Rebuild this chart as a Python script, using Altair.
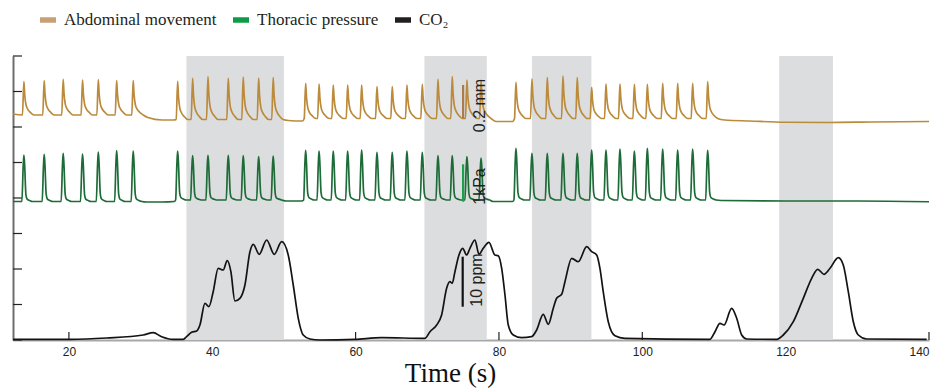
import altair as alt
import pandas as pd

# ---------------- data ----------------
X_DOMAIN = [12.2, 140]
Y_DOMAIN = [0, 56.8]
x_ticks = [20, 40, 60, 80, 100, 120, 140]
y_ticks = [0, 7.1, 14.2, 21.3, 28.4, 35.5, 42.6, 49.7, 56.8]

SERIES = ["Abdominal movement", "Thoracic pressure", "CO\u2082"]
LINE_COLORS = ["#BB8A3B", "#1D6B37", "#151213"]
LEGEND_COLORS = ["#C9A074", "#0E9A48", "#231F20"]

shade_start = [36.4, 69.6, 84.6, 119.1]
shade_end = [50.0, 78.3, 92.9, 126.6]

# breath (pulse) peak times, shared by abdominal and thoracic traces
breath_t = [13.72, 16.55, 19.2, 21.9, 24.1, 26.66, 28.97,
            35.17, 37.26, 39.4, 42.23, 44.32, 46.47, 48.5,
            53.03, 54.9, 56.88, 58.89, 60.84, 62.98, 65.11, 67.16, 69.3, 71.49, 73.48, 75.53, 77.5,
            82.37, 84.6, 86.74, 88.93, 90.92, 92.93, 94.93, 96.88, 98.89, 100.7, 102.84, 104.93, 107.02, 109.12]
section_sizes = [7, 7, 13, 14]
abd_peak = [51.66, 51.86, 52.14, 52.0, 52.06, 51.86, 51.86,
            51.74, 52.34, 52.66, 52.34, 52.6, 52.4, 52.46,
            51.34, 51.2, 51.0, 51.0, 51.0, 50.66, 50.66, 51.0, 51.14, 52.14, 52.66, 52.0, 52.0,
            51.54, 52.2, 52.46, 52.8, 52.46, 50.54, 51.2, 51.2, 51.14, 51.14, 51.34, 51.34, 51.34, 51.66]
thor_peak = [37.0, 37.14, 37.34, 37.2, 37.6, 37.86, 37.8,
             37.8, 36.86, 36.94, 36.94, 36.86, 36.66, 36.8,
             37.94, 37.8, 37.8, 37.8, 38.0, 37.54, 37.54, 37.8, 37.54, 36.86, 36.86, 36.66, 36.4,
             38.34, 37.34, 37.34, 37.34, 37.34, 38.0, 38.0, 38.2, 37.8, 38.34, 38.2, 38.0, 38.2, 37.94]
abd_base = [45.0, 44.1, 44.3, 44.3]
thor_base = [27.7, 28.0, 28.0, 28.0]

# resting (no-breath) stretches
abd_rest_t = [12.2, 31.0, 33.0, 34.6, 50.6, 52.6, 79.6, 81.9, 111.5, 115, 120, 126, 132, 140]
abd_rest_v = [45.2, 44.5, 44.0, 44.0, 43.9, 43.8, 43.7, 43.7, 44.0, 43.8, 43.55, 43.5, 43.6, 43.7]
thor_rest_t = [12.2, 30.8, 33.0, 34.7, 50.3, 52.5, 79.2, 81.9, 111.0, 120, 130, 140]
thor_rest_v = [27.7, 27.6, 27.6, 27.7, 27.8, 27.8, 27.7, 27.7, 27.9, 27.8, 27.8, 27.65]

# pulse shapes (time offset from peak, fraction of peak height)
abd_shape_dt = [-0.2, 0.0, 0.12, 0.3, 0.55, 0.9, 1.4]
abd_shape_f = [0.0, 1.0, 0.6, 0.3, 0.17, 0.08, 0.0]
thor_shape_dt = [-0.28, -0.1, 0.0, 0.1, 0.28, 0.45, 0.8, 1.2]
thor_shape_f = [0.0, 0.75, 1.0, 0.8, 0.15, 0.05, 0.02, 0.0]

# CO2 trace (ppm above baseline)
co2_t = [12.23, 20.14, 25.26, 30.37, 31.76, 32.93, 34.55, 35.95, 36.42, 37.12, 37.82, 38.28,
         38.98, 39.53, 40.13, 40.83, 41.53, 42.09, 42.6, 43.16, 43.86, 44.56, 45.26, 45.72,
         46.55, 47.59, 48.65, 49.68, 50.6, 51.3, 52.0, 52.69, 53.63, 55.02, 59.9, 63.63,
         69.67, 70.37, 71.31, 72.0, 72.7, 73.16, 73.48, 73.86, 74.42, 74.94, 75.49, 75.95,
         76.65, 77.21, 77.81, 78.6, 79.44, 79.9, 80.38, 80.84, 81.3, 82.0, 83.17, 84.56,
         85.26, 86.18, 86.88, 87.58, 88.05, 88.75, 89.21, 90.15, 91.07, 92.24, 92.94, 93.63,
         94.09, 94.55, 95.25, 96.19, 97.58, 109.44, 110.14, 110.84, 111.4, 112.47, 113.17,
         113.87, 114.57, 118.75, 119.67, 121.07, 122.46, 123.63, 124.47, 125.35, 126.19,
         127.35, 128.04, 128.74, 129.44, 130.14, 131.31, 139.68]
co2_v = [0.14, 0.14, 0.4, 1.0, 1.46, 0.66, 0.14, 0.14, 0.66, 1.54, 1.8, 3.0,
         7.34, 6.66, 9.66, 14.34, 14.0, 15.86, 13.66, 7.8, 8.34, 11.0, 17.66, 19.14,
         17.14, 20.0, 17.14, 19.66, 17.0, 11.0, 4.34, 1.0, 0.2, 0.0, 0.14, 0.46,
         0.34, 1.66, 3.0, 5.0, 10.34, 11.66, 11.34, 13.66, 17.0, 18.34, 17.0, 18.34,
         20.0, 17.14, 18.34, 19.54, 17.0, 16.86, 14.34, 9.0, 3.0, 1.0, 0.46, 0.66,
         2.0, 5.14, 3.14, 6.34, 8.34, 9.14, 11.66, 16.34, 15.66, 18.66, 17.66, 17.0,
         14.34, 9.66, 3.66, 0.86, 0.34, 0.14, 1.66, 3.34, 3.0, 6.34, 4.34,
         1.0, 0.2, 0.14, 1.0, 3.66, 8.34, 12.34, 14.14, 13.14, 14.34,
         16.46, 15.0, 9.66, 3.66, 1.0, 0.2, 0.14]

# scale bars and their labels
bar_t = [75.0, 75.0, 74.94]
bar_lo = [44.34, 27.66, 6.66]
bar_hi = [51.0, 35.14, 16.66]
bar_color = ["#A97C50", "#1BA04B", "#111111"]
label_text = ["0.2 mm", "1kPa", "10 ppm"]
label_t = [77.4, 77.4, 76.9]
label_v = [46.9, 30.7, 12.0]

# ---------------- build tables ----------------
rows = []
i = 0
for s, n in enumerate(section_sizes):
    for _ in range(n):
        t0 = breath_t[i]
        for dt, f in zip(abd_shape_dt, abd_shape_f):
            rows.append((SERIES[0], t0 + dt, abd_base[s] + f * (abd_peak[i] - abd_base[s])))
        for dt, f in zip(thor_shape_dt, thor_shape_f):
            rows.append((SERIES[1], t0 + dt, thor_base[s] + f * (thor_peak[i] - thor_base[s])))
        i += 1
rows += [(SERIES[0], t, v) for t, v in zip(abd_rest_t, abd_rest_v)]
rows += [(SERIES[1], t, v) for t, v in zip(thor_rest_t, thor_rest_v)]
rows += [(SERIES[2], t, v) for t, v in zip(co2_t, co2_v)]
lines_df = pd.DataFrame(rows, columns=["series", "t", "v"]).sort_values(["series", "t"])

shade_df = pd.DataFrame({"start": shade_start, "end": shade_end,
                         "lo": [Y_DOMAIN[0]] * 4, "hi": [Y_DOMAIN[1]] * 4})
bars_df = pd.DataFrame({"t": bar_t, "lo": bar_lo, "hi": bar_hi, "c": bar_color})
labels_df = pd.DataFrame({"t": label_t, "v": label_v, "txt": label_text})
xtick_df = pd.DataFrame({"t": x_ticks})
ytick_df = pd.DataFrame({"v": y_ticks})
legend_df = pd.DataFrame({"series": SERIES, "t": [0, 0, 0], "v": [0, 0, 0]})

W, H = 916, 284
xscale = alt.Scale(domain=X_DOMAIN, nice=False, zero=False)
yscale = alt.Scale(domain=Y_DOMAIN, nice=False, zero=False)

X_AXIS = alt.Axis(orient="bottom", values=x_ticks, ticks=False, grid=False,
                  domainColor="#A8A8A8", domainWidth=2,
                  labelFont="Liberation Sans", labelFontSize=12, labelColor="#222222",
                  labelPadding=6,
                  title="Time (s)", titleFont="Liberation Serif", titleFontSize=27,
                  titleFontWeight="normal", titleColor="#111111",
                  titleX=437, titleY=41, titleAlign="center", titleBaseline="alphabetic")
Y_AXIS = alt.Axis(orient="left", values=y_ticks, labels=False, ticks=False,
                  domainColor="#6E6E6E", domainWidth=2, grid=False, title=None)


def X(field):
    return alt.X(field, scale=xscale, axis=X_AXIS)


def Y(field):
    return alt.Y(field, scale=yscale, axis=Y_AXIS)


# inward x ticks (drawn first so the grey bands cover those at 40 and 120)
xticks = alt.Chart(xtick_df).mark_rule(color="#222222", strokeWidth=1.2).encode(
    x=X("t:Q"), y=alt.value(H), y2=alt.value(H - 8),
)

shades = alt.Chart(shade_df).mark_rect(color="#DCDDDE").encode(
    x=X("start:Q"), x2="end:Q", y=Y("lo:Q"), y2="hi:Q",
)

yticks = alt.Chart(ytick_df).mark_rule(color="#222222", strokeWidth=1.2).encode(
    y=Y("v:Q"), x=alt.value(0), x2=alt.value(9),
)

lines = alt.Chart(lines_df).mark_line(strokeWidth=1.7, interpolate="monotone").encode(
    x=X("t:Q"),
    y=Y("v:Q"),
    color=alt.Color("series:N", scale=alt.Scale(domain=SERIES, range=LINE_COLORS),
                    legend=None),
    detail="series:N",
)

# legend-only layer (draws no marks, only provides the legend swatches)
legend_layer = alt.Chart(legend_df).transform_filter("datum.t > 1000").mark_line().encode(
    x=X("t:Q"),
    y=Y("v:Q"),
    color=alt.Color("series:N", scale=alt.Scale(domain=SERIES, range=LEGEND_COLORS),
                    legend=alt.Legend(orient="none", legendX=24, legendY=-47,
                                      direction="horizontal", title=None,
                                      symbolType="stroke", symbolStrokeWidth=5.5,
                                      symbolSize=256, labelFont="Liberation Serif",
                                      labelFontSize=17, labelColor="#231F20",
                                      labelOffset=5, columnPadding=5, padding=0)),
)

bars = alt.Chart(bars_df).mark_rule(strokeWidth=2.2).encode(
    x=X("t:Q"), y=Y("lo:Q"), y2="hi:Q",
    color=alt.Color("c:N", scale=None, legend=None),
)

labels = alt.Chart(labels_df).mark_text(font="Liberation Sans", fontSize=16, angle=270,
                                        align="center", baseline="middle",
                                        color="#231F20").encode(
    x=X("t:Q"), y=Y("v:Q"), text="txt:N",
)

chart = alt.layer(xticks, shades, yticks, lines, legend_layer, bars, labels).resolve_scale(
    color="independent"
).properties(
    width=W, height=H,
    autosize=alt.AutoSizeParams(type="none"),
    padding={"left": 13, "top": 56, "right": 16, "bottom": 51},
    background="white",
).configure_view(stroke=None)

chart.save("out.html", embed_options={"renderer": "svg", "actions": False})
